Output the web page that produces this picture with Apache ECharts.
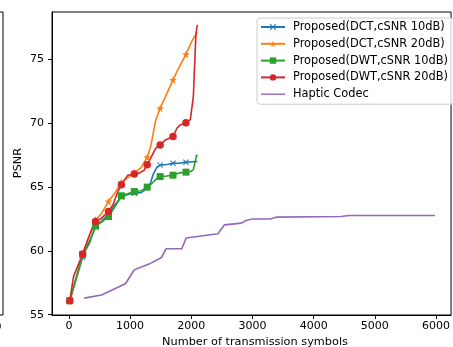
<!DOCTYPE html>
<html><head><meta charset="utf-8">
<script src="https://cdn.jsdelivr.net/npm/echarts@6/dist/echarts.min.js"></script>
<style>html,body{margin:0;padding:0;background:#fff}#c{width:453px;height:347px}</style>
</head><body><div id="c"></div>
<script>
const seriesNames = ['Proposed(DCT,cSNR 10dB)','Proposed(DCT,cSNR 20dB)','Proposed(DWT,cSNR 10dB)','Proposed(DWT,cSNR 20dB)','Haptic Codec'];
const markerX = [14, 225, 436, 647, 858, 1069, 1280, 1491, 1702, 1913];

const dct10X = [14, 225, 290, 350, 436, 550, 647, 750, 858, 960, 1069, 1180, 1230, 1280, 1320, 1380, 1440, 1491, 1600, 1702, 1800, 1913, 2000, 2100];
const dct10Y = [56.1, 59.5, 60.3, 60.9, 61.85, 62.4, 62.85, 63.6, 64.2, 64.4, 64.5, 64.55, 64.7, 65.0, 65.1, 66.0, 66.55, 66.7, 66.75, 66.85, 66.85, 66.93, 66.95, 66.98];

const dct20X = [14, 225, 300, 436, 530, 647, 750, 858, 960, 1069, 1180, 1280, 1337, 1418, 1491, 1578, 1702, 1792, 1913, 2006, 2095];
const dct20Y = [56.1, 59.7, 60.7, 62.4, 62.9, 63.85, 64.5, 65.37, 65.7, 66.1, 66.5, 67.32, 68.15, 70.2, 71.15, 72.05, 73.36, 74.27, 75.36, 76.35, 77.1];

const dwt10X = [14, 225, 330, 436, 550, 647, 760, 858, 960, 1069, 1180, 1280, 1364, 1444, 1491, 1600, 1702, 1792, 1913, 1990, 2034, 2070, 2087, 2100];
const dwt10Y = [56.1, 59.7, 60.5, 61.95, 62.3, 62.68, 63.5, 64.3, 64.45, 64.63, 64.7, 64.98, 65.3, 65.68, 65.8, 65.85, 65.91, 66.07, 66.15, 66.2, 66.35, 67.1, 67.5, 67.37];

const dwt20X = [14, 77, 225, 318, 399, 436, 534, 647, 720, 801, 858, 961, 1069, 1150, 1230, 1280, 1364, 1418, 1491, 1578, 1640, 1702, 1765, 1820, 1913, 1985, 2034, 2077, 2100];
const dwt20Y = [56.1, 58.0, 59.74, 61.0, 62.0, 62.29, 62.55, 63.07, 63.6, 64.63, 65.16, 65.9, 66.0, 66.07, 66.3, 66.72, 67.5, 68.0, 68.28, 68.67, 68.8, 68.93, 69.58, 69.84, 70.02, 70.25, 72.05, 77.0, 77.66];

const hapticX = [250, 533, 924, 1069, 1310, 1514, 1589, 1846, 1916, 2436, 2543, 2822, 2891, 2998, 3293, 3390, 4445, 4579, 5984];
const hapticY = [56.3, 56.54, 57.42, 58.52, 58.96, 59.48, 60.16, 60.16, 61.0, 61.33, 62.03, 62.16, 62.37, 62.48, 62.48, 62.63, 62.68, 62.76, 62.76];

const xTicks = [0, 1000, 2000, 3000, 4000, 5000, 6000];
const yTicks = [55, 60, 65, 70, 75];

const colors = ['#1f77b4', '#ff7f0e', '#2ca02c', '#d62728', '#9467bd'];
const xSym = 'path://M0,1.2L1.2,0L5,3.8L8.8,0L10,1.2L6.2,5L10,8.8L8.8,10L5,6.2L1.2,10L0,8.8L3.8,5Z';
const starSym = 'path://M50,0L61.8,35.3L100,35.3L69.1,57.7L80.9,93.3L50,71.3L19.1,93.3L30.9,57.7L0,35.3L38.2,35.3Z';
const symbols = [xSym, starSym, 'rect', 'circle', 'none'];
const sizes = [6, 8, 7, 7.5, 0];
const FONT = 'DejaVu Sans';

function build(xs, ys, marked) {
  return xs.map((x, i) => {
    const item = { value: [x, ys[i]] };
    if (!marked || markerX.indexOf(x) < 0) item.symbol = 'none';
    return item;
  });
}
const datasets = [
  build(dct10X, dct10Y, true),
  build(dct20X, dct20Y, true),
  build(dwt10X, dwt10Y, true),
  build(dwt20X, dwt20Y, true),
  build(hapticX, hapticY, false)
];

const chart = echarts.init(document.getElementById('c'), null, { renderer: 'canvas' });
chart.setOption({
  animation: false,
  backgroundColor: '#fff',
  textStyle: { fontFamily: FONT },
  grid: { left: 52, top: 12, width: 405, height: 303, show: true, borderColor: '#000', borderWidth: 1, backgroundColor: 'transparent' },
  xAxis: {
    type: 'value', min: -276, max: 6246,
    axisLine: { show: true, onZero: false, lineStyle: { color: '#000', width: 1 } },
    axisTick: { show: true, customValues: xTicks, length: 4, lineStyle: { color: '#000' } },
    axisLabel: { customValues: xTicks, color: '#000', fontSize: 11, fontFamily: FONT, margin: 6, formatter: v => String(v) },
    splitLine: { show: false }
  },
  yAxis: {
    type: 'value', min: 54.98, max: 78.67,
    axisLine: { show: true, onZero: false, lineStyle: { color: '#000', width: 1 } },
    axisTick: { show: true, customValues: yTicks, length: 4, lineStyle: { color: '#000' } },
    axisLabel: { customValues: yTicks, color: '#000', fontSize: 11, fontFamily: FONT, margin: 8, formatter: v => String(v) },
    splitLine: { show: false }
  },
  legend: {
    orient: 'vertical', left: 257, top: 18,
    padding: [3, 6, 4, 3],
    itemWidth: 24, itemHeight: 8, itemGap: 4.8,
    backgroundColor: 'rgba(255,255,255,0.8)', borderColor: '#cccccc', borderWidth: 1, borderRadius: 3,
    textStyle: { color: '#000', fontSize: 11.4, fontFamily: FONT, lineHeight: 12, padding: [0, 0, 0, 3] },
    data: seriesNames.slice(0, 4).concat([{ name: seriesNames[4], icon: 'path://M0,4.3L24,4.3L24,5.7L0,5.7Z', itemStyle: { color: colors[4] } }])
  },
  series: seriesNames.map((name, k) => ({
    name: name, type: 'line', data: datasets[k],
    color: colors[k],
    symbol: symbols[k], symbolSize: sizes[k], showAllSymbol: true,
    lineStyle: { width: 1.6, color: colors[k] },
    itemStyle: { color: colors[k], borderWidth: 0 },
    emphasis: { disabled: true }
  })),
  graphic: [
    { type: 'text', x: 0, y: 0, style: { text: 'Number of transmission symbols', font: '11.3px "DejaVu Sans"', fill: '#000', x: 255, y: 337, align: 'center', verticalAlign: 'top' } },
    { type: 'text', x: 18, y: 163, rotation: Math.PI / 2, style: { text: 'PSNR', font: '11.3px "DejaVu Sans"', fill: '#000', align: 'center', verticalAlign: 'middle' } },
    { type: 'line', shape: { x1: 3, y1: 12, x2: 3, y2: 315 }, style: { stroke: '#000', lineWidth: 1 } },
    { type: 'line', shape: { x1: 0, y1: 12, x2: 3, y2: 12 }, style: { stroke: '#000', lineWidth: 1 } },
    { type: 'line', shape: { x1: 0, y1: 315, x2: 3, y2: 315 }, style: { stroke: '#000', lineWidth: 1 } },
    { type: 'text', x: 1.5, y: 322, style: { text: '0', font: '11px "DejaVu Sans"', fill: '#000', align: 'right', verticalAlign: 'top' } }
  ]
});
</script></body></html>
